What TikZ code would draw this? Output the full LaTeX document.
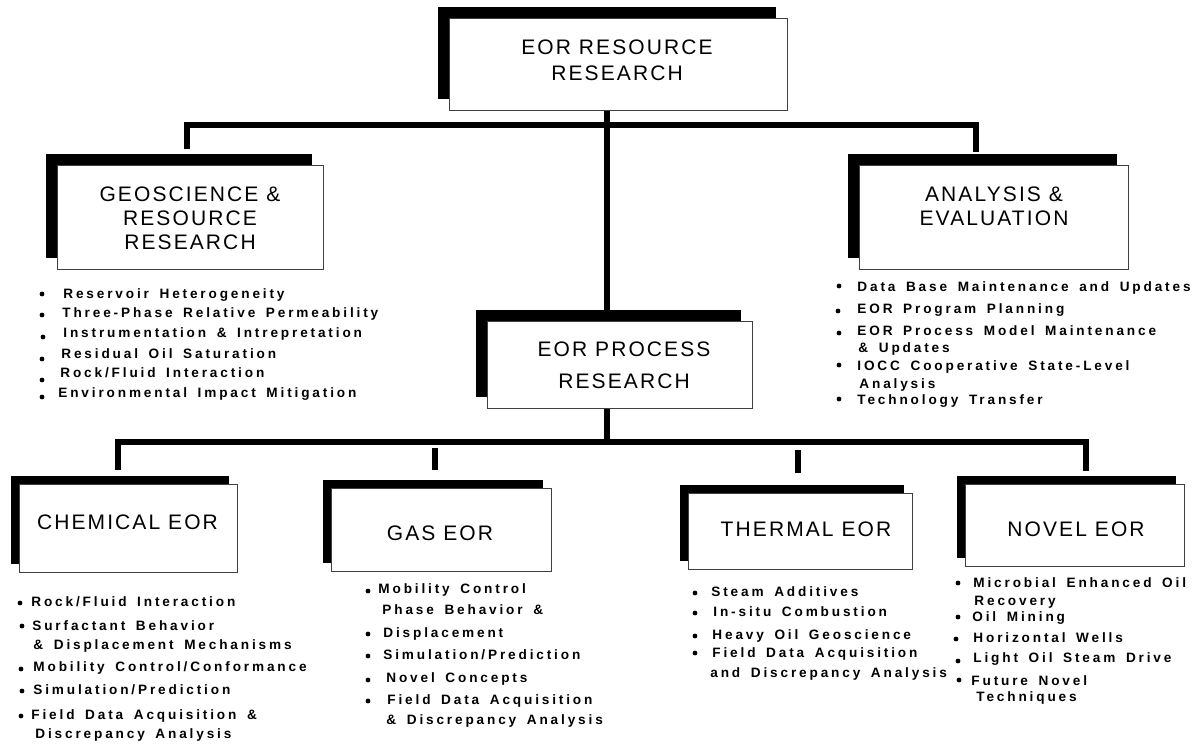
\documentclass[tikz,border=0pt]{standalone}
\usepackage{fontspec}
\setmainfont{Liberation Sans}
\newfontfamily\titlefont{Liberation Sans}[LetterSpace=10]
\newfontfamily\listfont{Liberation Sans}[LetterSpace=21, WordSpace=1.6]
\usetikzlibrary{shadows,backgrounds}

\tikzset{
  panel/.style={draw=black!75, line width=0.5pt, fill=white, inner sep=0pt,
    general shadow={fill=black, shadow xshift=-#1, shadow yshift=#1}},
  upper/.style={panel=5.75pt},
  lower/.style={panel=4pt},
  heading/.style={font=\titlefont\fontsize{10.5}{12}\selectfont, align=center, inner sep=0pt},
  entry/.style={font=\listfont\bfseries\fontsize{6.8}{8}\selectfont, anchor=west,
    inner sep=0pt, text height=4.9pt, text depth=0pt},
  bus/.style={line width=3.3pt, line join=miter},
}

\begin{document}
\begin{tikzpicture}[x=0.5pt, y=-0.5pt]
\useasboundingbox (0,0) rectangle (1202,743);

% boxes
\node[upper, minimum width=169pt, minimum height=46pt]   (top)   at (618,65) {};
\node[upper, minimum width=133pt, minimum height=51.5pt] (geo)   at (190,217.5) {};
\node[upper, minimum width=134.5pt, minimum height=51.5pt] (ana) at (993.5,217.5) {};
\node[upper, minimum width=132.5pt, minimum height=43.5pt] (proc) at (619.5,364.5) {};
\node[lower, minimum width=109pt, minimum height=44pt]   (chem)  at (128,528) {};
\node[lower, minimum width=110pt, minimum height=41.5pt] (gas)   at (441,529.5) {};
\node[lower, minimum width=112pt, minimum height=38pt]   (therm) at (800,531) {};
\node[lower, minimum width=109.5pt, minimum height=41pt] (novel) at (1074.5,525) {};

% titles
\node[heading, font=\titlefont\fontsize{10.5}{13}\selectfont] (top-t) at (617,60) {EOR RESOURCE\\RESEARCH};
\node[heading] (geo-t) at (190,218) {GEOSCIENCE \&\\RESOURCE\\RESEARCH};
\node[heading] (ana-t) at (994,206) {ANALYSIS \&\\EVALUATION};
\node[heading, font=\titlefont\fontsize{10.5}{16}\selectfont] (proc-t) at (624,365) {EOR PROCESS\\RESEARCH};
\node[heading] (chem-t)  at (127.5,522) {CHEMICAL EOR};
\node[heading] (gas-t)   at (440,533) {GAS EOR};
\node[heading] (therm-t) at (806,529) {THERMAL EOR};
\node[heading] (novel-t) at (1076,529) {NOVEL EOR};

% connectors, behind the boxes and their shadows
\coordinate (bus1) at (607,125);
\coordinate (bus2) at (607,442);
\begin{scope}[on background layer]
  \fill[white] (0,0) rectangle (1202,743);
  \draw[bus] ([xshift=-1.5pt,yshift=8pt]geo.north) |- (bus1)
             -| ([xshift=-8.75pt,yshift=6.5pt]ana.north);
  \draw[bus] (top.south -| bus1) -- (proc.north -| bus1);
  \draw[bus] (proc.south -| bus2) -- (bus2);
  \draw[bus] ([xshift=-5pt,yshift=7pt]chem.north) |- (bus2)
             -| ([xshift=5.75pt,yshift=6.5pt]novel.north);
  \draw[bus] ([xshift=-3pt,yshift=20pt]gas.north) -- ([xshift=-3pt,yshift=9pt]gas.north);
  \draw[bus] ([xshift=-1pt,yshift=21.5pt]therm.north) -- ([xshift=-1pt,yshift=10pt]therm.north);
\end{scope}

% bullet lists: bullet x / bullet y / text x / text y / text  (bullet x = 0: continuation line)
\foreach \bx/\by/\tx/\ty/\t [count=\i] in {
  42/294/63/294/{Reservoir Heterogeneity},
  42/315/62/313/{Three-Phase Relative Permeability},
  43/337/63/333/{Instrumentation \& Intrepretation},
  42/359/61/354/{Residual Oil Saturation},
  42/380/60/373/{Rock/Fluid Interaction},
  42/397/58/393/{Environmental Impact Mitigation}}
{ \fill (\bx,\by) circle (1.2pt); \node[entry] (geo-\i) at (\tx,\ty) {\t}; }

\foreach \bx/\by/\tx/\ty/\t [count=\i] in {
  839/286/857/287/{Data Base Maintenance and Updates},
  838/311/857/309/{EOR Program Planning},
  839/333/857/331/{EOR Process Model Maintenance},
  0/0/858/348/{\& Updates},
  839/365/857/366/{IOCC Cooperative State-Level},
  0/0/859/384/{Analysis},
  839/399/857/400/{Technology Transfer}}
{ \ifnum\bx>0 \fill (\bx,\by) circle (1.2pt); \fi \node[entry] (ana-\i) at (\tx,\ty) {\t}; }

\foreach \bx/\by/\tx/\ty/\t [count=\i] in {
  20/603/31/602/{Rock/Fluid Interaction},
  22/626/32/626/{Surfactant Behavior},
  0/0/33/645/{\& Displacement Mechanisms},
  21/669/33/667/{Mobility Control/Conformance},
  22/691/33/690/{Simulation/Prediction},
  21/716/31/715/{Field Data Acquisition \&},
  0/0/35/734/{Discrepancy Analysis}}
{ \ifnum\bx>0 \fill (\bx,\by) circle (1.2pt); \fi \node[entry] (chem-\i) at (\tx,\ty) {\t}; }

\foreach \bx/\by/\tx/\ty/\t [count=\i] in {
  368/591/378/589/{Mobility Control},
  0/0/382/610/{Phase Behavior \&},
  368/634/383/633/{Displacement},
  368/656/383/655/{Simulation/Prediction},
  368/680/386/678/{Novel Concepts},
  368/701/387/700/{Field Data Acquisition},
  0/0/386/720/{\& Discrepancy Analysis}}
{ \ifnum\bx>0 \fill (\bx,\by) circle (1.2pt); \fi \node[entry] (gas-\i) at (\tx,\ty) {\t}; }

\foreach \bx/\by/\tx/\ty/\t [count=\i] in {
  695/593/711/592/{Steam Additives},
  695/613/713/612/{In-situ Combustion},
  695/636/712/635/{Heavy Oil Geoscience},
  695/653/712/653/{Field Data Acquisition},
  0/0/710/673/{and Discrepancy Analysis}}
{ \ifnum\bx>0 \fill (\bx,\by) circle (1.2pt); \fi \node[entry] (therm-\i) at (\tx,\ty) {\t}; }

\foreach \bx/\by/\tx/\ty/\t [count=\i] in {
  958/583/973/583/{Microbial Enhanced Oil},
  0/0/974/601/{Recovery},
  958/617/972/617/{Oil Mining},
  956/639/973/638/{Horizontal Wells},
  958/661/973/658/{Light Oil Steam Drive},
  959/680/971/681/{Future Novel},
  0/0/976/697/{Techniques}}
{ \ifnum\bx>0 \fill (\bx,\by) circle (1.2pt); \fi \node[entry] (novel-\i) at (\tx,\ty) {\t}; }
\end{tikzpicture}
\end{document}
